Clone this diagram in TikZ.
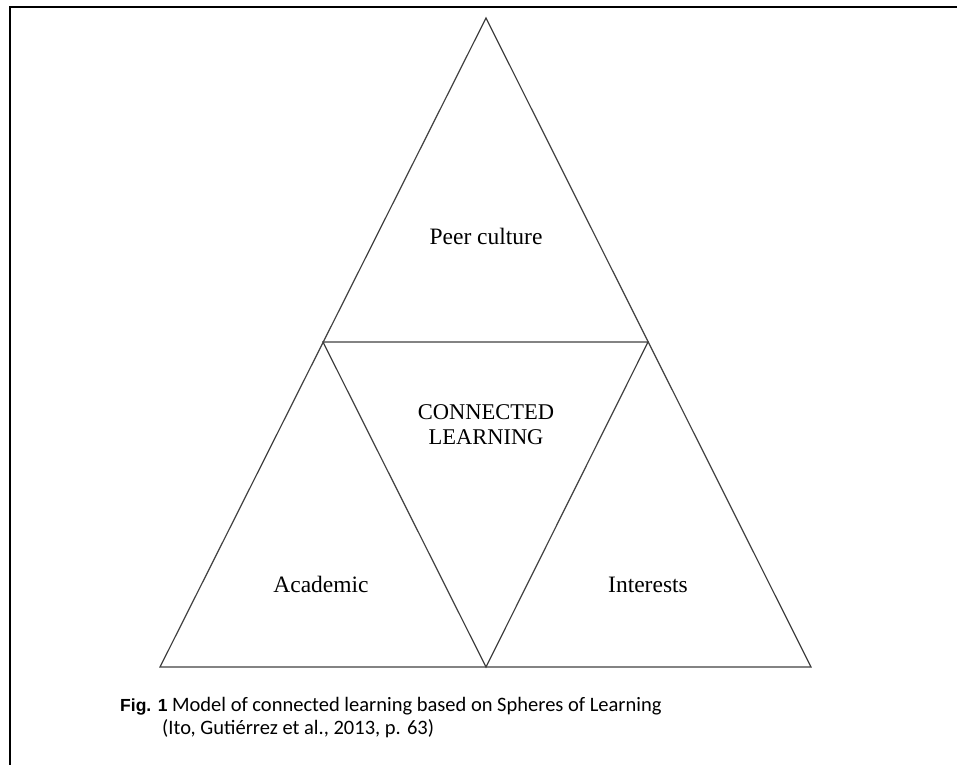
\documentclass[tikz,border=0pt]{standalone}
\usepackage{fontspec}
\setmainfont{Liberation Serif}
\newfontfamily\capfont{Carlito}
\newfontfamily\figfont{Liberation Sans}
\usetikzlibrary{positioning}

\tikzset{
  sphere/.style={draw=black!75, line width=1.2pt, line join=miter},
  label/.style={font=\fontsize{23.5}{25}\selectfont, align=center, inner sep=0pt},
  caption/.style={font=\capfont\fontsize{20.5}{24}\selectfont, anchor=base west, inner sep=0pt}
}

\begin{document}
\begin{tikzpicture}[x=1pt,y=-1pt]
    \useasboundingbox (0,0) rectangle (957,765);
    % frame
    \draw[line width=2.4pt] (957,7) -- (10,7) -- (10,765);
    % corners of the big triangle
    \coordinate (apex) at (486,18);
    \coordinate (bl) at (160,667);
    \coordinate (br) at (811,667);
    % midpoints of its sides
    \coordinate (ml) at (323,342);
    \coordinate (mr) at (648,342);
    \coordinate (bm) at (486,667);
    % outer and inner triangles
    \draw[sphere] (apex) -- (bl) -- (br) -- cycle;
    \draw[sphere] (ml) -- (mr) -- (bm) -- cycle;
    % spheres
    \node[label] (peer) at (486,236) {Peer culture};
    \node[label] (conn) at (486,425) {\fontsize{22.5}{25}\selectfont CONNECTED\\\fontsize{22.5}{25}\selectfont LEARNING};
    \node[label] (acad) at (321,584) {Academic};
    \node[label] (intr) at (648,585) {Interests};
    % caption
    \node[caption] (fig) at (120,711) {{\figfont\bfseries\fontsize{17.5}{24}\selectfont Fig. 1} Model of connected learning based on Spheres of Learning};
    \node[caption] (src) at (162,734) {(Ito, Gutiérrez et al., 2013, p. 63)};
\end{tikzpicture}
\end{document}
